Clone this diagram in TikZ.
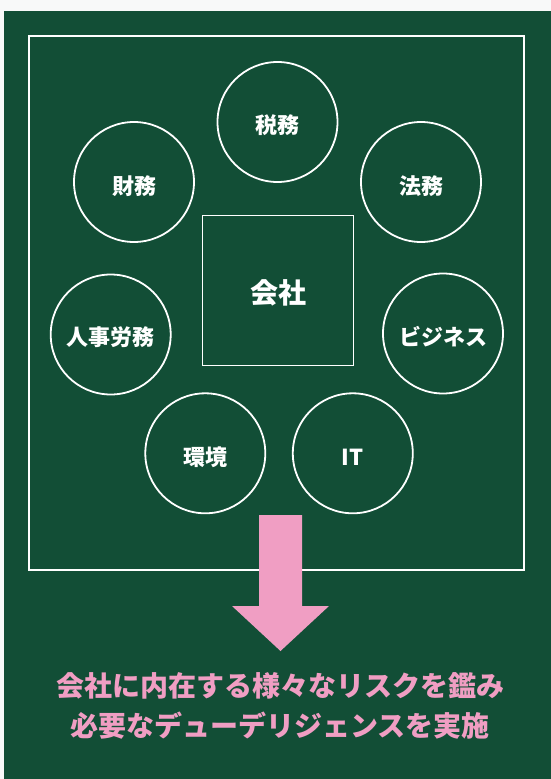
\documentclass[tikz,border=0pt]{standalone}
\usepackage{fontspec}
\usetikzlibrary{calc}
\newfontfamily\jp{Noto Sans CJK JP}
\definecolor{bggreen}{RGB}{18,78,54}
\definecolor{edgegray}{RGB}{248,249,249}
\definecolor{pinkc}{RGB}{240,158,195}
\begin{document}
\begin{tikzpicture}[x=1pt,y=-1pt,
  topic/.style={circle,draw=white,line width=1.8pt,minimum size=120pt,inner sep=0pt},
  topictext/.style={text=white,inner sep=0pt,font=\jp\bfseries\fontsize{22}{26}\selectfont},
  corebox/.style={rectangle,draw=white,line width=1.8pt,minimum width=151pt,minimum height=150pt,inner sep=0pt},
  coretext/.style={text=white,inner sep=0pt,font=\jp\bfseries\fontsize{28}{32}\selectfont},
  result/.style={text=pinkc,font=\jp\bfseries\fontsize{28}{32}\selectfont,inner sep=0pt}]
\useasboundingbox (0,0) rectangle (551,779);
\fill[edgegray] (0,0) rectangle (551,779);
\fill[bggreen] (4,11) rectangle (551,779);
\node[rectangle,draw=white,line width=1.8pt,minimum width=495pt,minimum height=534pt,inner sep=0pt] (frame) at (276.5,303) {};
\node[corebox] (core) at (278,290.5) {};
\node[coretext] (coret) at (278,293) {会社};
\node[topic] (zeimu) at (277.5,122) {};
\node[topic] (zaimu) at (134,182) {};
\node[topic] (houmu) at (421,182) {};
\node[topic] (jinji) at (110.7,334.5) {};
\node[topic] (biz) at (443,333.5) {};
\node[topic] (kankyo) at (205.3,453.3) {};
\node[topic] (it) at (352.8,453.3) {};
\node[topictext] (zeimut) at ($(zeimu)+(0,3.5)$) {税務};
\node[topictext] (zaimut) at ($(zaimu)+(0,4)$) {財務};
\node[topictext] (houmut) at ($(houmu)+(0,4)$) {法務};
\node[topictext] (jinjit) at ($(jinji)+(0,3)$) {人事労務};
\node[topictext] (bizt) at ($(biz)+(0,3)$) {ビジネス};
\node[topictext] (kankyot) at ($(kankyo)+(0,4)$) {環境};
\node[topictext] (itt) at ($(it)+(0,4)$) {IT};
\fill[pinkc] (259,515) -- (302,515) -- (302,606) -- (329,606) -- (280.5,651) -- (232,606) -- (259,606) -- cycle;
\node[result] (line1) at (280,686) {会社に内在する様々なリスクを鑑み};
\node[result] (line2) at (280,726) {必要なデューデリジェンスを実施};
\end{tikzpicture}
\end{document}
